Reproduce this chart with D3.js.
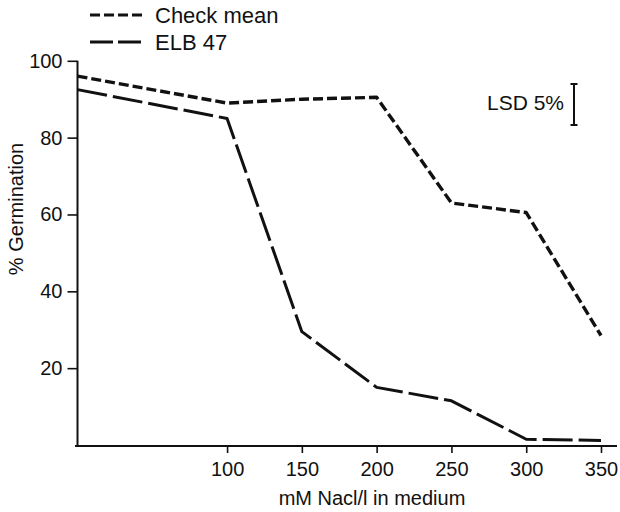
<!DOCTYPE html>
<html>
<head>
<meta charset="utf-8">
<script src="https://cdn.jsdelivr.net/npm/d3@7"></script>
<style>
  html, body { margin: 0; padding: 0; background: #fff; }
  svg { display: block; font-family: "Liberation Sans", Arial, Helvetica, sans-serif; }
</style>
</head>
<body>
<svg id="chart" width="620" height="512"></svg>
<script>
// ---- data ----
const nacl = [0, 100, 150, 200, 250, 300, 350];
const checkMean = [96, 89, 90, 90.5, 63, 60.5, 28.5];
const elb47 = [92.5, 85, 29.5, 15, 11.5, 1.5, 1.2];
const xTicks = [100, 150, 200, 250, 300, 350];
const yTicks = [20, 40, 60, 80, 100];
const seriesNames = ["Check mean", "ELB 47"];

const svg = d3.select("#chart");
const ink = "#111";

const x = d3.scaleLinear().domain([0, 350]).range([77.5, 601]);
const y = d3.scaleLinear().domain([0, 100]).range([445, 60.8]);

// y axis
const yAxis = svg.append("g")
  .attr("transform", "translate(77.5,0)")
  .call(d3.axisLeft(y).tickValues(yTicks).tickSize(10).tickPadding(5).tickSizeOuter(0));
yAxis.select(".domain").remove();
yAxis.selectAll(".tick line").attr("stroke", ink).attr("stroke-width", 1.6);
yAxis.selectAll(".tick text").attr("fill", ink).style("font-size", "20px");
svg.append("line")
  .attr("x1", 77.5).attr("x2", 77.5).attr("y1", y(100)).attr("y2", 446.5)
  .attr("stroke", ink).attr("stroke-width", 2);

// x axis
const xAxis = svg.append("g")
  .attr("transform", "translate(0,446)")
  .call(d3.axisBottom(x).tickValues(xTicks).tickSize(7).tickPadding(9).tickSizeOuter(0));
xAxis.select(".domain").remove();
xAxis.selectAll(".tick line").attr("stroke", ink).attr("stroke-width", 1.6);
xAxis.selectAll(".tick text").attr("fill", ink).style("font-size", "20px");
svg.append("line")
  .attr("x1", 75).attr("x2", 617).attr("y1", 446).attr("y2", 446)
  .attr("stroke", ink).attr("stroke-width", 2);

// axis titles
svg.append("text")
  .attr("x", 372).attr("y", 505)
  .attr("text-anchor", "middle").attr("fill", ink)
  .style("font-size", "20px")
  .text("mM Nacl/l in medium");
svg.append("text")
  .attr("transform", "translate(23,209) rotate(-90)")
  .attr("text-anchor", "middle").attr("fill", ink)
  .style("font-size", "20px")
  .text("% Germination");

// lines
const line = d3.line().x(d => x(d[0])).y(d => y(d[1]));
const styles = [
  { dash: "10,4", width: 3.4 },
  { dash: "30,6", width: 3 }
];
[checkMean, elb47].forEach((vals, i) => {
  svg.append("path")
    .datum(nacl.map((n, j) => [n, vals[j]]))
    .attr("d", line)
    .attr("fill", "none")
    .attr("stroke", ink)
    .attr("stroke-width", styles[i].width)
    .attr("stroke-dasharray", styles[i].dash)
    .attr("stroke-linejoin", "round");
});

// legend
const legendDash = ["10,4", "23,5"];
seriesNames.forEach((name, i) => {
  const ly = 15 + i * 27;
  svg.append("line")
    .attr("x1", 90).attr("x2", 143).attr("y1", ly).attr("y2", ly)
    .attr("stroke", ink).attr("stroke-width", 3)
    .attr("stroke-dasharray", legendDash[i]);
  svg.append("text")
    .attr("x", 155).attr("y", ly + 8)
    .attr("fill", ink).style("font-size", "22px")
    .text(name);
});

// LSD 5% bracket
svg.append("text")
  .attr("x", 564).attr("y", 110)
  .attr("text-anchor", "end").attr("fill", ink)
  .style("font-size", "21px")
  .text("LSD 5%");
const bx = 574, by1 = 84, by2 = 125;
svg.append("line").attr("x1", bx).attr("x2", bx).attr("y1", by1).attr("y2", by2)
  .attr("stroke", ink).attr("stroke-width", 2);
[by1, by2].forEach(yy => svg.append("line")
  .attr("x1", bx - 3.5).attr("x2", bx + 3.5).attr("y1", yy).attr("y2", yy)
  .attr("stroke", ink).attr("stroke-width", 2));
</script>
</body>
</html>
